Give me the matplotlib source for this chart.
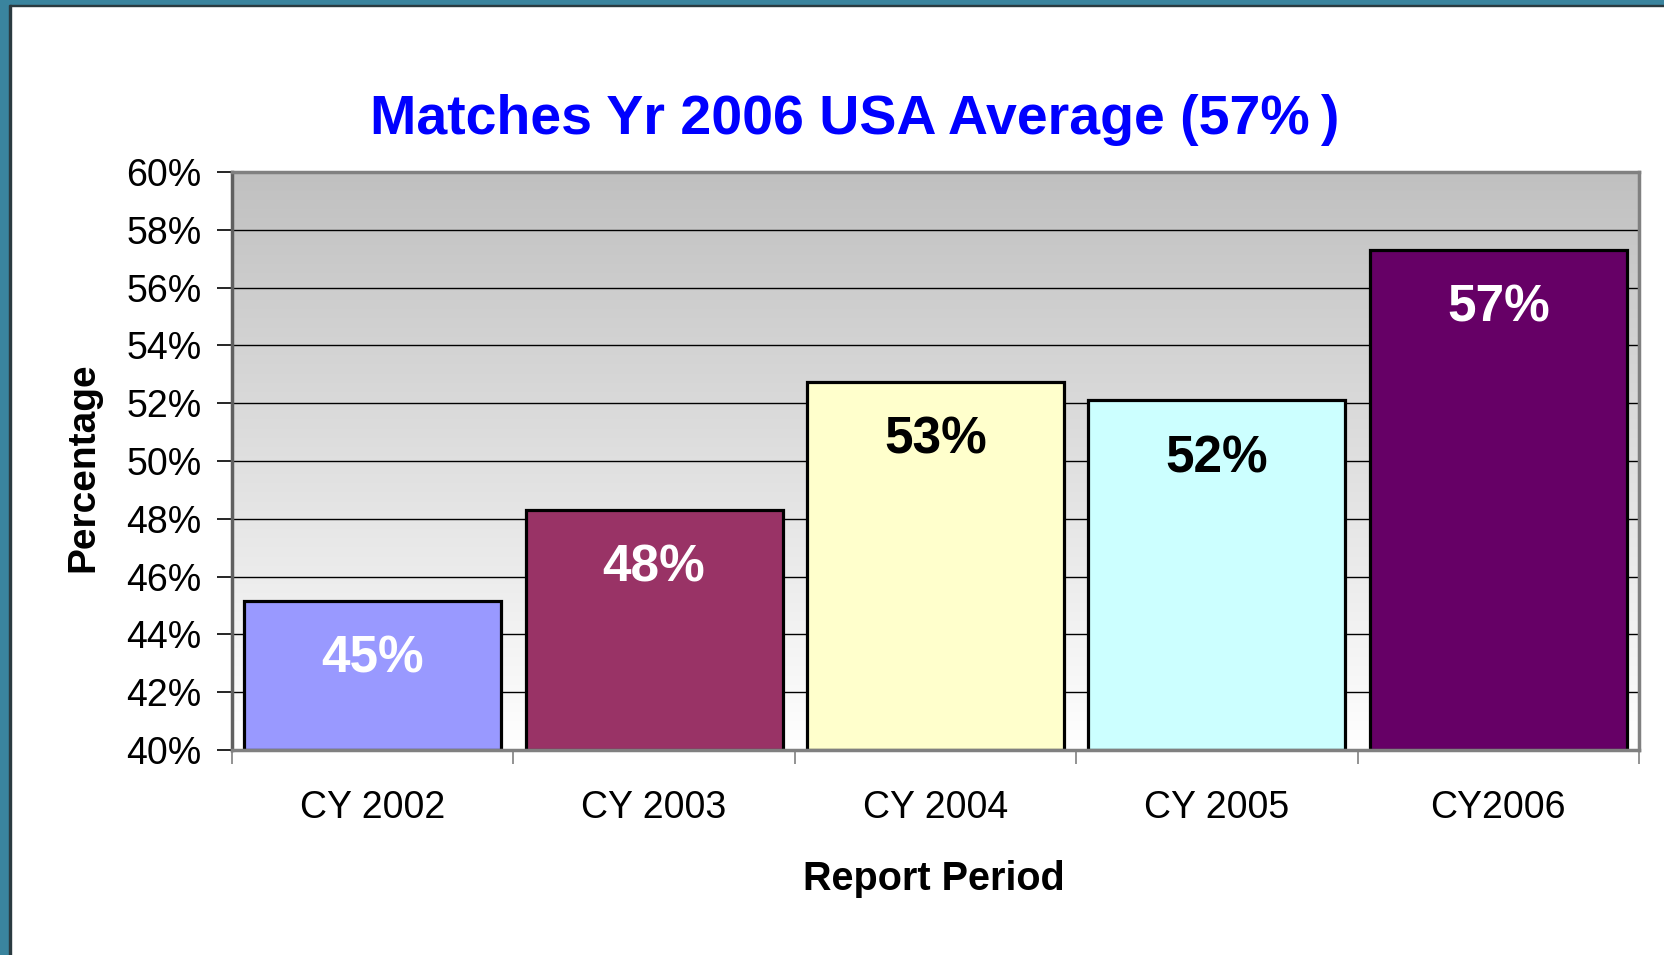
import numpy as np
import matplotlib
matplotlib.use("Agg")
import matplotlib.pyplot as plt
from matplotlib.patches import Rectangle

plt.rcParams['font.family'] = ['Liberation Sans', 'DejaVu Sans']

categories = ['CY 2002', 'CY 2003', 'CY 2004', 'CY 2005', 'CY2006']
values = [45.15, 48.3, 52.75, 52.1, 57.3]
labels = ['45%', '48%', '53%', '52%', '57%']
bar_colors = ['#9999ff', '#993366', '#ffffcc', '#ccffff', '#660066']
label_colors = ['white', 'white', 'black', 'black', 'white']
yticks = list(range(40, 61, 2))

fig = plt.figure(figsize=(16.65, 9.55), dpi=100)
# teal frame on top and left
fig.patches.append(Rectangle((0, 1 - 5/955), 1, 5/955, transform=fig.transFigure,
                             color='#3a849e', zorder=0))
fig.patches.append(Rectangle((0, 1 - 6/955), 1, 1.2/955, transform=fig.transFigure,
                             color='#2a3a40', zorder=0))
fig.patches.append(Rectangle((0, 0), 9/1665, 1, transform=fig.transFigure,
                             color='#3a849e', zorder=0))
fig.patches.append(Rectangle((9/1665, 0), 1.5/1665, 1 - 5/955, transform=fig.transFigure,
                             color='#2a3a40', zorder=0))

ax = fig.add_axes([232/1665, 1 - 750/955, (1639 - 232)/1665, (750 - 172)/955])

# gradient background, gray at top to white at bottom
grad = np.linspace(0, 1, 256).reshape(-1, 1)
cmap = matplotlib.colors.LinearSegmentedColormap.from_list('bg', ['#ffffff', '#c0c0c0'])
ax.imshow(grad, aspect='auto', cmap=cmap, origin='lower',
          extent=(-0.5, 4.5, 40, 60), zorder=0)

ax.set_xlim(-0.5, 4.5)
ax.set_ylim(40, 60)

for y in yticks[1:-1]:
    ax.axhline(y, color='black', lw=1.0, zorder=1)

x = np.arange(len(categories))
ax.bar(x, [v - 40 for v in values], bottom=40, width=0.914, color=bar_colors,
       edgecolor='black', linewidth=2.3, zorder=2)

for xi, v, lab, c in zip(x, values, labels, label_colors):
    ax.annotate(lab, (xi, v), xytext=(0, -42), textcoords='offset points',
                ha='center', va='center', fontsize=37, fontweight='bold',
                color=c, zorder=3)

ax.set_yticks(yticks)
ax.set_yticklabels([f'{t}%' for t in yticks], fontsize=27)
ax.tick_params(axis='y', length=11, width=1.2, color='black', pad=11)

ax.set_xticks(np.arange(-0.5, 5, 1))
ax.set_xticklabels([])
ax.tick_params(axis='x', which='major', length=10, width=1.2, color='#808080')
ax.set_xticks(x, minor=True)
ax.set_xticklabels(categories, minor=True, fontsize=27)
ax.tick_params(axis='x', which='minor', length=0, pad=29)

for side in ['top', 'right', 'bottom']:
    ax.spines[side].set_color('#808080')
    ax.spines[side].set_linewidth(2.5)
ax.spines['left'].set_color('#606060')
ax.spines['left'].set_linewidth(2.5)

fig.text(855/1665, 1 - 120/955, 'Matches Yr 2006 USA Average (57%\u2009)', ha='center',
         va='center', fontsize=40, fontweight='bold', color='#0000ff')
fig.text(83/1665, 1 - 467/955, 'Percentage', rotation=90, ha='center', va='center',
         fontsize=28, fontweight='bold')
fig.text(934/1665, 1 - 879/955, 'Report Period', ha='center', va='center',
         fontsize=28.5, fontweight='bold')

fig.savefig('out.png', dpi=100)
